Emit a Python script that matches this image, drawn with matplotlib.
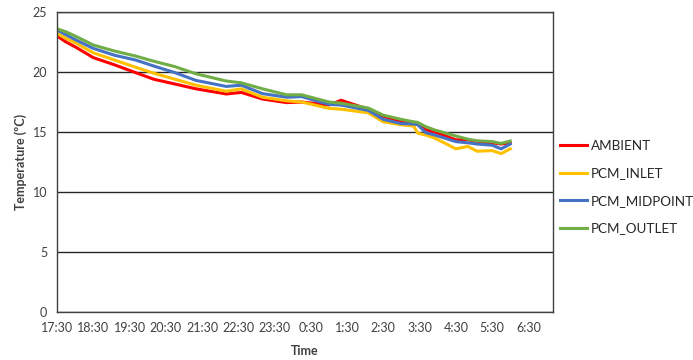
import matplotlib.pyplot as plt

# %% data
times = ["17:30", "17:45", "18:00", "18:30", "19:05", "19:40", "20:10", "20:45", "21:20",
         "22:10", "22:35", "23:10", "23:50", "0:15", "1:00", "1:20", "2:05",
         "2:30", "3:00", "3:20", "3:27", "3:40", "3:55", "4:30", "4:50",
         "5:05", "5:30", "5:45", "6:00"]
ambient = [23.0, 22.5, 22.1, 21.2, 20.6, 19.95, 19.4, 19.0, 18.6, 18.17, 18.3, 17.75, 17.45,
           17.5, 17.25, 17.65, 16.9, 16.3, 15.85, 15.7, 15.65, 15.2, 15.0, 14.35, 14.35,
           14.2, 14.1, 14.0, 14.1]
pcm_inlet = [23.2, 22.8, 22.45, 21.6, 21.0, 20.4, 19.9, 19.4, 18.9, 18.4, 18.6, 17.9, 17.6,
             17.5, 16.97, 16.9, 16.6, 15.85, 15.6, 15.5, 14.9, 14.75, 14.5, 13.6, 13.8,
             13.4, 13.45, 13.2, 13.6]
pcm_midpoint = [23.5, 23.1, 22.7, 21.97, 21.4, 21.0, 20.5, 19.95, 19.3, 18.8, 18.9, 18.2, 17.9,
                17.95, 17.3, 17.25, 16.8, 16.05, 15.7, 15.67, 15.6, 14.95, 14.75, 14.2, 14.1,
                14.0, 13.9, 13.6, 14.0]
pcm_outlet = [23.6, 23.35, 23.0, 22.25, 21.75, 21.33, 20.9, 20.45, 19.85, 19.25, 19.1, 18.6, 18.1,
              18.1, 17.5, 17.4, 17.0, 16.4, 16.05, 15.85, 15.8, 15.45, 15.17, 14.67, 14.4,
              14.27, 14.2, 14.05, 14.25]
tick_labels = ["17:30", "18:30", "19:30", "20:30", "21:30", "22:30", "23:30",
               "0:30", "1:30", "2:30", "3:30", "4:30", "5:30", "6:30"]


def hours_since_start(t, start=17.5):
    h, m = t.split(":")
    v = int(h) + int(m) / 60
    if v < start:
        v += 24
    return v - start


x = [hours_since_start(t) for t in times]
x_ticks = [hours_since_start(t) for t in tick_labels]

# %% plot
plt.rcParams['font.family'] = ['Lato', 'DejaVu Sans']
fig = plt.figure(figsize=(6.93, 3.6), dpi=100)
ax = fig.add_axes([0.0823, 0.1333, 0.7157, 0.8333])

series = [("AMBIENT", ambient, "#FF0000"),
          ("PCM_INLET", pcm_inlet, "#FFC000"),
          ("PCM_MIDPOINT", pcm_midpoint, "#4472C4"),
          ("PCM_OUTLET", pcm_outlet, "#70AD47")]
for name, vals, col in series:
    ax.plot(x, vals, color=col, lw=2.2, label=name, solid_joinstyle="round")

ax.set_xlim(0, 13.68)
ax.set_ylim(0, 25)
ax.set_yticks([0, 5, 10, 15, 20, 25])
ax.set_xticks(x_ticks)
ax.set_xticklabels(tick_labels)
ax.tick_params(length=0, labelsize=9, colors="#404040", pad=7)
ax.grid(axis="y", color="#262626", lw=1)
ax.set_axisbelow(True)
for s in ax.spines.values():
    s.set_color("#404040")
    s.set_linewidth(1)

ax.set_xlabel("Time", fontsize=9, fontweight="bold", color="#404040", labelpad=8)
ax.set_ylabel("Temperature (ºC)", fontsize=9, fontweight="bold", color="#404040", labelpad=4)

ax.legend(loc="upper left", bbox_to_anchor=(560 / 693, 1 - 140 / 360),
          bbox_transform=fig.transFigure, frameon=False, fontsize=9.7,
          handlelength=2.0, handletextpad=0.3, labelspacing=1.15,
          borderpad=0, borderaxespad=0, labelcolor="#262626")

fig.savefig("out.png", dpi=100)
